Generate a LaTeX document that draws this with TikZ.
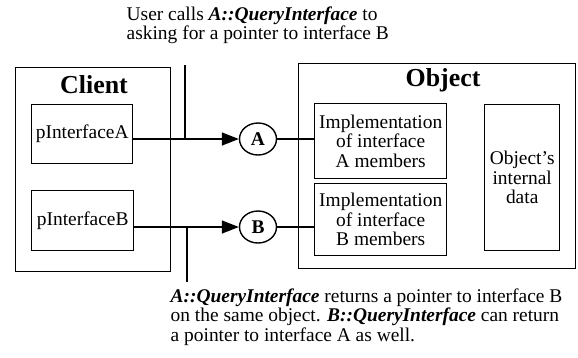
\documentclass[tikz,border=0pt]{standalone}
\usepackage{fontspec}
\setmainfont{Liberation Serif}
\usetikzlibrary{arrows.meta,calc,positioning,shapes.geometric}

\begin{document}
\begin{tikzpicture}[x=1bp,y=-1bp,line width=1.4pt,
  font=\fontsize{19.5}{19.5}\selectfont,
  kutu/.style={draw,anchor=north west,inner sep=0pt,align=center},
  baslik/.style={font=\fontsize{26}{28}\selectfont\bfseries},
  arayuz/.style={draw,ellipse,minimum width=37bp,minimum height=32bp,inner sep=0pt,font=\fontsize{19.5}{20}\selectfont\bfseries},
  not/.style={anchor=north west,align=left,inner sep=0pt},
  ok/.style={-{Triangle[length=17bp,width=13bp]}}]
\useasboundingbox (0,0) rectangle (578,357);
% istemci tarafi
\node[kutu,minimum width=155bp,minimum height=204bp] (client) at (15,67) {};
\node[baslik] (clientT) at (94,85) {Client};
\node[kutu,minimum width=101bp,minimum height=59bp] (pA) at (31,104) {pInterfaceA};
\node[kutu,minimum width=102bp,minimum height=60bp] (pB) at (31,190) {pInterfaceB};
% arayuz gostericileri
\node[arayuz] (ifA) at (258,139) {A};
\node[arayuz] (ifB) at (258,227) {B};
% nesne tarafi
\node[kutu,minimum width=277bp,minimum height=205bp] (object) at (298,63) {};
\node[baslik] (objectT) at (443,80) {Object};
\node[kutu,minimum width=132bp,minimum height=75bp] (implA) at (314,103) {Implementation\\of interface\\A members};
\node[kutu,minimum width=132bp,minimum height=72bp] (implB) at (314,183) {Implementation\\of interface\\B members};
\node[kutu,minimum width=75bp,minimum height=146bp] (data) at (484,104) {Object's\\internal\\data};
% baglantilar
\draw[ok] (pA.east |- ifA) -- (ifA.west);
\draw[ok] (pB.east |- ifB) -- (ifB.west);
\draw (ifA.east) -- (ifA.east -| implA.west);
\draw (ifB.east) -- (ifB.east -| implB.west);
% cagri ve donus cizgileri
\coordinate (callTop) at (185,65);
\coordinate (retBot) at (187,282);
\draw (callTop) -- (callTop |- ifA);
\draw (retBot) -- (retBot |- ifB);
% aciklamalar
\node[not] (callNote) at (126,6)
  {User calls \textbf{\textit{A::QueryInterface}} to\\asking for a pointer to interface B};
\node[not] (retNote) at (170,288)
  {\textbf{\textit{A::QueryInterface}} returns a pointer to interface B\\
   on the same object. \textbf{\textit{B::QueryInterface}} can return\\
   a pointer to interface A as well.};
\end{tikzpicture}
\end{document}
